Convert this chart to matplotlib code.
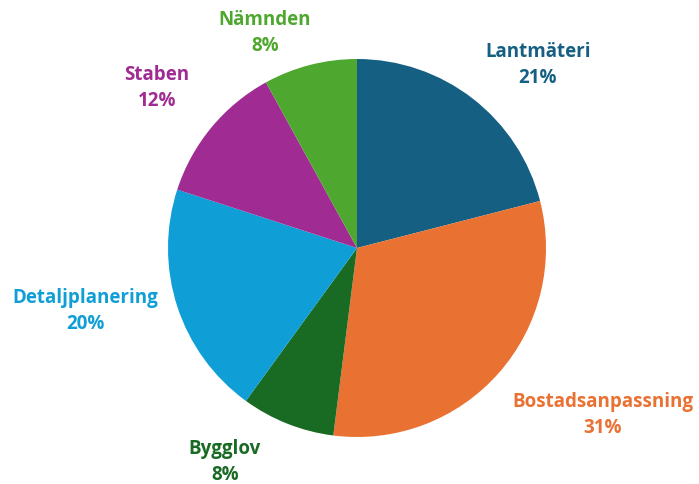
import matplotlib
matplotlib.use("Agg")
import matplotlib.pyplot as plt

categories = ["Lantmäteri", "Bostadsanpassning", "Bygglov", "Detaljplanering", "Staben", "Nämnden"]
values = [21, 31, 8, 20, 12, 8]
colors = ["#156082", "#E97132", "#196B24", "#0F9ED5", "#A02B93", "#4EA72E"]

# layout: label centers in pixels (x, y from top)
label_pos = [(538, 65), (603, 415), (225, 462), (85, 311), (157, 88), (265, 33)]

W, H = 699, 484
fig = plt.figure(figsize=(W / 100, H / 100), dpi=100)
cx, cy, r = 357, 248, 189
ax = fig.add_axes([(cx - r) / W, (H - cy - r) / H, 2 * r / W, 2 * r / H])
ax.pie(values, colors=colors, startangle=90, counterclock=False, radius=1,
       wedgeprops=dict(edgecolor="none"))
ax.set_xlim(-1, 1)
ax.set_ylim(-1, 1)
ax.set_aspect("equal")
ax.axis("off")

for cat, v, col, (px, py) in zip(categories, values, colors, label_pos):
    fig.text(px / W, 1 - py / H, f"{cat}\n{v}%", color=col, fontsize=13.5,
             fontweight="bold", family="Open Sans", ha="center", va="center",
             linespacing=1.35)

fig.savefig("out.png", dpi=100)
